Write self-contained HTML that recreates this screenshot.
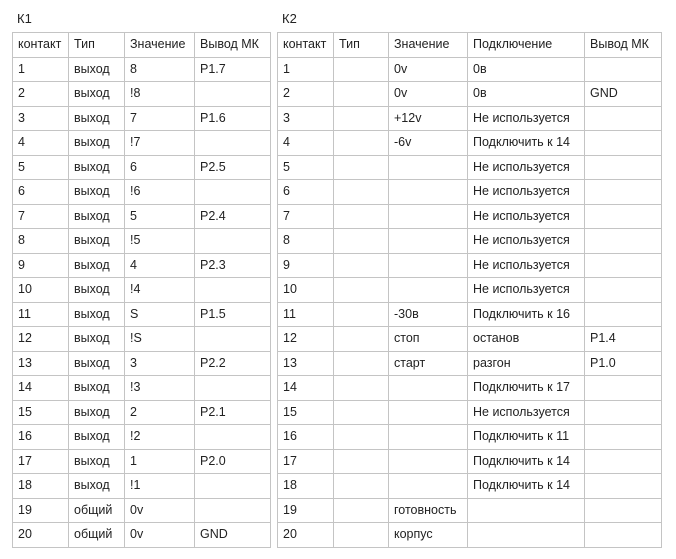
<!DOCTYPE html>
<html><head><meta charset="utf-8"><style>
body{margin:0;background:#fff;width:676px;height:559px;position:relative;overflow:hidden;font-family:"Liberation Sans","DejaVu Sans",sans-serif;font-size:12.5px;color:#222}
.lbl{position:absolute;top:11px;font-size:13px}
table{position:absolute;top:32px;border-collapse:collapse;table-layout:fixed}
td{border:1px solid #c4c4c4;height:23.5px;padding:0 0 0 5px;white-space:nowrap;overflow:hidden;line-height:23px}
</style></head><body>
<div class="lbl" style="left:17px">К1</div>
<div class="lbl" style="left:282px">К2</div>
<table style="left:12px;width:258px">
<colgroup><col style="width:56px"><col style="width:56px"><col style="width:70px"><col style="width:76px"></colgroup>
<tr><td>контакт</td><td>Тип</td><td>Значение</td><td>Вывод МК</td></tr>
<tr><td>1</td><td>выход</td><td>8</td><td>P1.7</td></tr>
<tr><td>2</td><td>выход</td><td>!8</td><td></td></tr>
<tr><td>3</td><td>выход</td><td>7</td><td>P1.6</td></tr>
<tr><td>4</td><td>выход</td><td>!7</td><td></td></tr>
<tr><td>5</td><td>выход</td><td>6</td><td>P2.5</td></tr>
<tr><td>6</td><td>выход</td><td>!6</td><td></td></tr>
<tr><td>7</td><td>выход</td><td>5</td><td>P2.4</td></tr>
<tr><td>8</td><td>выход</td><td>!5</td><td></td></tr>
<tr><td>9</td><td>выход</td><td>4</td><td>P2.3</td></tr>
<tr><td>10</td><td>выход</td><td>!4</td><td></td></tr>
<tr><td>11</td><td>выход</td><td>S</td><td>P1.5</td></tr>
<tr><td>12</td><td>выход</td><td>!S</td><td></td></tr>
<tr><td>13</td><td>выход</td><td>3</td><td>P2.2</td></tr>
<tr><td>14</td><td>выход</td><td>!3</td><td></td></tr>
<tr><td>15</td><td>выход</td><td>2</td><td>P2.1</td></tr>
<tr><td>16</td><td>выход</td><td>!2</td><td></td></tr>
<tr><td>17</td><td>выход</td><td>1</td><td>P2.0</td></tr>
<tr><td>18</td><td>выход</td><td>!1</td><td></td></tr>
<tr><td>19</td><td>общий</td><td>0v</td><td></td></tr>
<tr><td>20</td><td>общий</td><td>0v</td><td>GND</td></tr>
</table>
<table style="left:277px;width:384px">
<colgroup><col style="width:56px"><col style="width:55px"><col style="width:79px"><col style="width:117px"><col style="width:77px"></colgroup>
<tr><td>контакт</td><td>Тип</td><td>Значение</td><td>Подключение</td><td>Вывод МК</td></tr>
<tr><td>1</td><td></td><td>0v</td><td>0в</td><td></td></tr>
<tr><td>2</td><td></td><td>0v</td><td>0в</td><td>GND</td></tr>
<tr><td>3</td><td></td><td>+12v</td><td>Не используется</td><td></td></tr>
<tr><td>4</td><td></td><td>-6v</td><td>Подключить к 14</td><td></td></tr>
<tr><td>5</td><td></td><td></td><td>Не используется</td><td></td></tr>
<tr><td>6</td><td></td><td></td><td>Не используется</td><td></td></tr>
<tr><td>7</td><td></td><td></td><td>Не используется</td><td></td></tr>
<tr><td>8</td><td></td><td></td><td>Не используется</td><td></td></tr>
<tr><td>9</td><td></td><td></td><td>Не используется</td><td></td></tr>
<tr><td>10</td><td></td><td></td><td>Не используется</td><td></td></tr>
<tr><td>11</td><td></td><td>-30в</td><td>Подключить к 16</td><td></td></tr>
<tr><td>12</td><td></td><td>стоп</td><td>останов</td><td>P1.4</td></tr>
<tr><td>13</td><td></td><td>старт</td><td>разгон</td><td>P1.0</td></tr>
<tr><td>14</td><td></td><td></td><td>Подключить к 17</td><td></td></tr>
<tr><td>15</td><td></td><td></td><td>Не используется</td><td></td></tr>
<tr><td>16</td><td></td><td></td><td>Подключить к 11</td><td></td></tr>
<tr><td>17</td><td></td><td></td><td>Подключить к 14</td><td></td></tr>
<tr><td>18</td><td></td><td></td><td>Подключить к 14</td><td></td></tr>
<tr><td>19</td><td></td><td>готовность</td><td></td><td></td></tr>
<tr><td>20</td><td></td><td>корпус</td><td></td><td></td></tr>
</table>
</body></html>
